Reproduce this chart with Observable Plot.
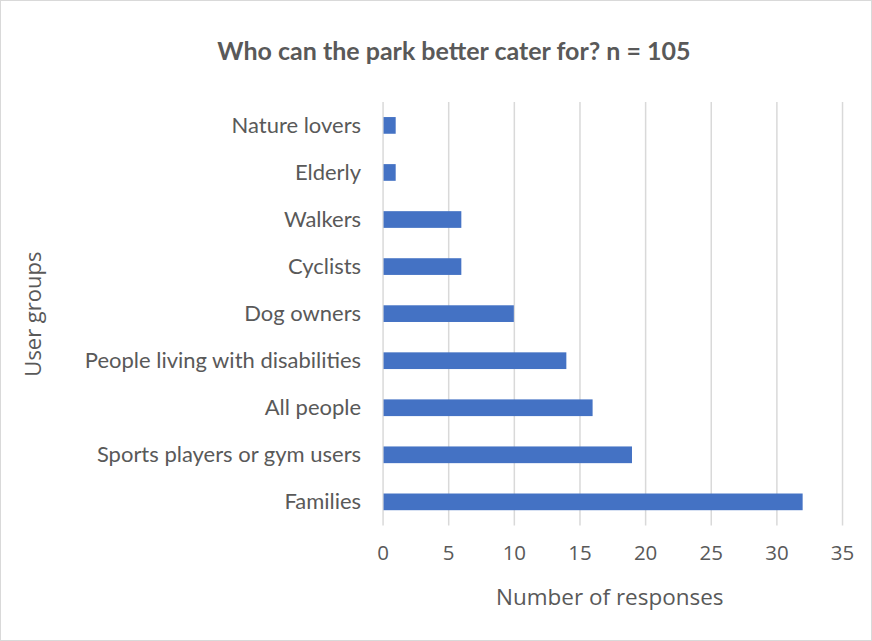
<!DOCTYPE html>
<html>
<head>
<meta charset="utf-8">
<script src="https://cdn.jsdelivr.net/npm/d3@7"></script>
<script src="https://cdn.jsdelivr.net/npm/@observablehq/plot@0.6"></script>
<style>
  html, body { margin: 0; padding: 0; background: #fff; }
  #wrap { position: relative; width: 872px; height: 641px; box-sizing: border-box; border: 1px solid #d9d9d9; overflow: hidden; }
  #title { position: absolute; left: 0; width: 906px; top: 34px; text-align: center; font-family: Lato, "Open Sans", sans-serif; font-weight: 700; font-size: 25px; line-height: 30px; color: #595959; }
  #chart { position: absolute; left: -1px; top: -1px; }
</style>
</head>
<body>
<div id="wrap">
  <div id="title">Who can the park better cater for? n = 105</div>
  <div id="chart"></div>
</div>
<script>
const categories = ["Nature lovers", "Elderly", "Walkers", "Cyclists", "Dog owners", "People living with disabilities", "All people", "Sports players or gym users", "Families"];
const responses = [1, 1, 6, 6, 10, 14, 16, 19, 32];
const xTicks = [0, 5, 10, 15, 20, 25, 30, 35];

const data = categories.map((c, i) => ({group: c, value: responses[i]}));

const plot = Plot.plot({
  width: 872,
  height: 641,
  marginLeft: 383,
  marginRight: 29,
  marginTop: 102,
  marginBottom: 115,
  style: {background: "transparent", color: "#595959"},
  x: {domain: [0, 35], ticks: xTicks, label: null},
  y: {domain: categories, paddingInner: 0.645, paddingOuter: 0.3225, round: false, label: null},
  marks: [
    Plot.gridX(xTicks, {stroke: "#d9d9d9", strokeOpacity: 1, strokeWidth: 1.5}),
    Plot.barX(data, {x: "value", y: "group", fill: "#4472C4", insetLeft: 1}),
    Plot.axisX(xTicks, {tickSize: 0, tickPadding: 20, fontSize: 20.5, fontFamily: "Open Sans", fill: "#595959", label: null}),
    Plot.axisY({tickSize: 0, tickPadding: 22, fontSize: 22, fontFamily: "Lato", fill: "#595959", label: null}),
    Plot.text(["Number of responses"], {frameAnchor: "bottom", lineAnchor: "middle", dy: 72, dx: -3, fontSize: 22.5, fontFamily: "Open Sans", fill: "#595959"}),
    Plot.text(["User groups"], {frameAnchor: "left", textAnchor: "middle", lineAnchor: "middle", dx: -350, dy: 0, rotate: -90, fontSize: 22, fontFamily: "Open Sans", fill: "#595959"})
  ]
});
document.getElementById("chart").appendChild(plot);
</script>
</body>
</html>
